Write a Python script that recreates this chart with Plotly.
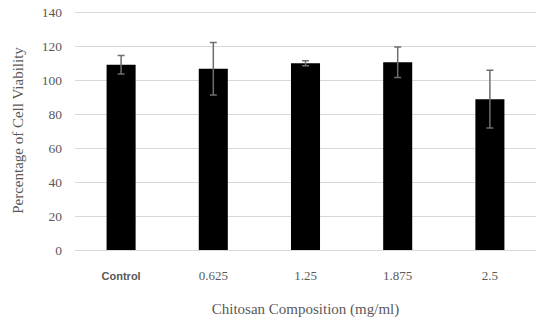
import plotly.graph_objects as go

categories = ["Control", "0.625", "1.25", "1.875", "2.5"]
viability = [109.3, 106.9, 110.2, 110.8, 89.0]
errors = [5.5, 15.5, 1.5, 9.0, 17.0]
tick_labels = ['<span style="font-family:Liberation Sans, Arial, sans-serif;font-size:11px;font-weight:bold">Control</span>',
               "0.625", "1.25", "1.875", "2.5"]
y_ticks = [0, 20, 40, 60, 80, 100, 120, 140]

fig = go.Figure()
fig.add_trace(go.Bar(
    x=categories,
    y=viability,
    marker=dict(color="black", line=dict(width=0)),
    error_y=dict(type="data", array=errors, visible=True, color="#6e6e6e", thickness=1.5, width=3.5),
))

fig.update_layout(
    width=550, height=325,
    margin=dict(l=75, r=14, t=11, b=75),
    paper_bgcolor="white", plot_bgcolor="white",
    bargap=0.685,
    showlegend=False,
    font=dict(family="Liberation Serif, serif", color="#595959", size=13),
    xaxis=dict(
        tickvals=categories, ticktext=tick_labels,
        showgrid=False, showline=False, ticks="",
        automargin=False,
        ticklabelstandoff=16,
        tickfont=dict(size=13, family="Liberation Serif, serif", color="#595959"),
        title=dict(text="Chitosan Composition (mg/ml)", standoff=21,
                   font=dict(size=15, family="Liberation Serif, serif", color="#595959")),
    ),
    yaxis=dict(
        range=[0, 141], tickvals=y_ticks,
        showgrid=True, gridcolor="#d9d9d9", gridwidth=1,
        zeroline=True, zerolinecolor="#d9d9d9", zerolinewidth=1,
        showline=False, ticks="",
        automargin=False,
        ticklabeloverflow="allow",
        ticklabelstandoff=12,
        tickfont=dict(size=13.5, family="Liberation Serif, serif", color="#595959"),
        title=dict(text="Percentage of Cell Viability", standoff=14,
                   font=dict(size=15, family="Liberation Serif, serif", color="#595959")),
    ),
)

fig.write_html("out.html", config={"displayModeBar": False},
               post_script="document.body.style.margin='0';")
